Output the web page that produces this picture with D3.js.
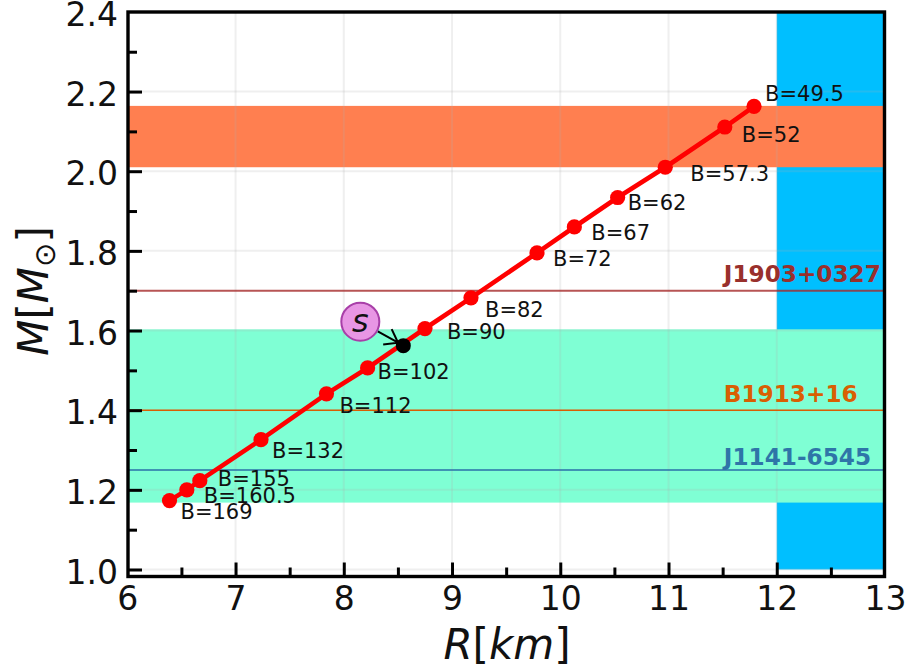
<!DOCTYPE html>
<html>
<head>
<meta charset="utf-8">
<script src="https://cdn.jsdelivr.net/npm/d3@7"></script>
<style>
html,body{margin:0;padding:0;background:#fff}
svg{display:block}
text{font-family:"DejaVu Sans",sans-serif;fill:#111}
</style>
</head>
<body>
<svg id="chart" width="907" height="672"></svg>
<script>
const bagConstants = ["49.5","52","57.3","62","67","72","82","90","102","112","132","155","160.5","169"];
const radiusKm = [11.79,11.52,10.97,10.53,10.13,9.785,9.175,8.75,8.22,7.84,7.235,6.67,6.55,6.39];
const massSolar = [2.163,2.111,2.01,1.934,1.86,1.795,1.682,1.605,1.506,1.441,1.326,1.223,1.2,1.173];
const labelDx = [11,17,25,10,17,16,14,22,10,13,11,18,17,11];
const labelDy = [-5,15,13.5,12.5,13,13,19,10.5,11,19,18,5,13,18];
const starS = {radius:8.55, mass:1.562, label:"s"};
const massBands = [{lo:2.01,hi:2.164,color:"#FF7F50"},{lo:1.168,hi:1.603,color:"#7FFFD4"}];
const radiusBand = {x0:12, x1:13, y0:1.0, y1:2.4, color:"#00BFFF"};
const pulsars = [
 {name:"J1903+0327",mass:1.70,line:"#a52a2a",text:"#99302c",op:0.8,sw:2,off:9},
 {name:"B1913+16",mass:1.40,line:"#d95f02",text:"#d95f02",op:1,sw:1.6,off:8.5},
 {name:"J1141-6545",mass:1.25,line:"#2a6fa8",text:"#2e75a8",op:1,sw:1.6,off:4.5}
];
const xMajor = [6,7,8,9,10,11,12,13];
const xMinor = [6.5,7.5,8.5,9.5,10.5,11.5,12.5];
const yMajor = [1.0,1.2,1.4,1.6,1.8,2.0,2.2,2.4];
const yMinor = [1.1,1.3,1.5,1.7,1.9,2.1,2.3];

const L=128, R=884.5, T=12, B=576.5;
const x=d3.scaleLinear().domain([6,13]).range([127.3,885]);
const y=d3.scaleLinear().domain([1.0,2.4]).range([569.5,11.9]);
const svg=d3.select("#chart");

// bands
svg.append("rect").attr("x",x(radiusBand.x0)).attr("width",R-x(radiusBand.x0))
  .attr("y",y(radiusBand.y1)).attr("height",y(radiusBand.y0)-y(radiusBand.y1)).attr("fill",radiusBand.color);
svg.selectAll(".band").data(massBands).join("rect").attr("x",L).attr("width",R-L)
  .attr("y",d=>y(d.hi)).attr("height",d=>y(d.lo)-y(d.hi)).attr("fill",d=>d.color);

// grid
const grid=svg.append("g").attr("stroke","#b0b0b0").attr("stroke-opacity",0.2).attr("stroke-width",2);
grid.selectAll(".gx").data(xMajor.slice(1,-1)).join("line")
  .attr("x1",d=>x(d)).attr("x2",d=>x(d)).attr("y1",T).attr("y2",B);
grid.selectAll(".gy").data(yMajor.slice(0,-1)).join("line")
  .attr("x1",L).attr("x2",R).attr("y1",d=>y(d)).attr("y2",d=>y(d));

// pulsar lines
svg.selectAll(".pl").data(pulsars).join("line").attr("x1",L).attr("x2",R)
  .attr("y1",d=>y(d.mass)).attr("y2",d=>y(d.mass)).attr("stroke",d=>d.line)
  .attr("stroke-opacity",d=>d.op).attr("stroke-width",d=>d.sw);
svg.selectAll(".pt").data(pulsars).join("text").text(d=>d.name)
  .attr("x",x(12)-53).attr("y",d=>y(d.mass)-d.off).attr("font-size",23.2).attr("font-weight","bold")
  .style("fill",d=>d.text);

// curve
const pts=radiusKm.map((r,i)=>({r,m:massSolar[i],b:bagConstants[i],dx:labelDx[i],dy:labelDy[i]}));
svg.append("path").datum(pts).attr("fill","none").attr("stroke","#f00").attr("stroke-width",4.6)
  .attr("d",d3.line().x(d=>x(d.r)).y(d=>y(d.m)));
svg.selectAll(".pt2").data(pts).join("circle").attr("cx",d=>x(d.r)).attr("cy",d=>y(d.m)).attr("r",7.6).attr("fill","#f00");
svg.selectAll(".bl").data(pts).join("text").text(d=>"B="+d.b)
  .attr("x",d=>x(d.r)+d.dx).attr("y",d=>y(d.m)+d.dy).attr("font-size",21);

// star s annotation
const sx=x(starS.radius), sy=y(starS.mass);
svg.append("circle").attr("cx",sx).attr("cy",sy).attr("r",7.5).attr("fill","#000");
const cx=sx-43, cy=sy-24;
const ang=Math.atan2(sy-cy,sx-cx);
const ax=cx+Math.cos(ang)*20, ay=cy+Math.sin(ang)*20, ex=sx-Math.cos(ang)*6, ey=sy-Math.sin(ang)*6;
svg.append("path").attr("fill","none").attr("stroke","#000").attr("stroke-width",2)
  .attr("d",`M${ax},${ay}L${ex},${ey}M${ex-Math.cos(ang-0.62)*15},${ey-Math.sin(ang-0.62)*15}L${ex},${ey}L${ex-Math.cos(ang+0.62)*15},${ey-Math.sin(ang+0.62)*15}`);
svg.append("circle").attr("cx",cx).attr("cy",cy).attr("r",19).attr("fill","#E896E4").attr("stroke","#A83FA8").attr("stroke-width",2);
svg.append("text").text(starS.label).attr("x",cx).attr("y",cy+10).attr("text-anchor","middle")
  .attr("font-size",32).attr("font-style","italic");

// frame
svg.append("rect").attr("x",L).attr("y",T).attr("width",R-L).attr("height",B-T)
  .attr("fill","none").attr("stroke","#000").attr("stroke-width",3.4);

// axes
const xAxis=d3.axisBottom(x).tickValues(xMajor).tickFormat(d3.format("d")).tickSize(-14).tickPadding(10);
const yAxis=d3.axisLeft(y).tickValues(yMajor).tickFormat(d3.format(".1f")).tickSize(-14).tickPadding(10);
const xg=svg.append("g").attr("transform",`translate(0,${B})`).call(xAxis);
const yg=svg.append("g").attr("transform",`translate(${L},0)`).call(yAxis);
[xg,yg].forEach(g=>{
  g.select(".domain").remove();
  g.selectAll("line").attr("stroke","#000").attr("stroke-width",3);
  g.selectAll("text").attr("font-size",33).style("font-family",'"DejaVu Sans",sans-serif').style("fill","#111");
});
yg.selectAll("text").attr("dy","0.41em");
xg.selectAll(".tick").filter(d=>d===6||d===13).select("line").remove();
yg.selectAll(".tick").filter(d=>d===2.4).select("line").remove();
svg.append("g").attr("transform",`translate(0,${B})`)
  .call(d3.axisBottom(x).tickValues(xMinor).tickFormat("").tickSize(-9))
  .call(g=>{g.select(".domain").remove();g.selectAll("line").attr("stroke","#000").attr("stroke-width",3);});
svg.append("g").attr("transform",`translate(${L},0)`)
  .call(d3.axisLeft(y).tickValues(yMinor).tickFormat("").tickSize(-9))
  .call(g=>{g.select(".domain").remove();g.selectAll("line").attr("stroke","#000").attr("stroke-width",3);});

// axis titles
const xt=svg.append("text").attr("x",507).attr("y",659).attr("text-anchor","middle").attr("font-size",42);
xt.append("tspan").text("R").attr("font-style","italic");
xt.append("tspan").text("[");
xt.append("tspan").text("km").attr("font-style","italic");
xt.append("tspan").text("]");
const yt=svg.append("text").attr("transform","translate(48,291) rotate(-90)").attr("text-anchor","middle").attr("font-size",42);
yt.append("tspan").text("M").attr("font-style","italic");
yt.append("tspan").text("[");
yt.append("tspan").text("M").attr("font-style","italic");
yt.append("tspan").text("⊙").attr("font-size",29).attr("dy",7);
yt.append("tspan").text("]").attr("dy",-7);
</script>
</body>
</html>
